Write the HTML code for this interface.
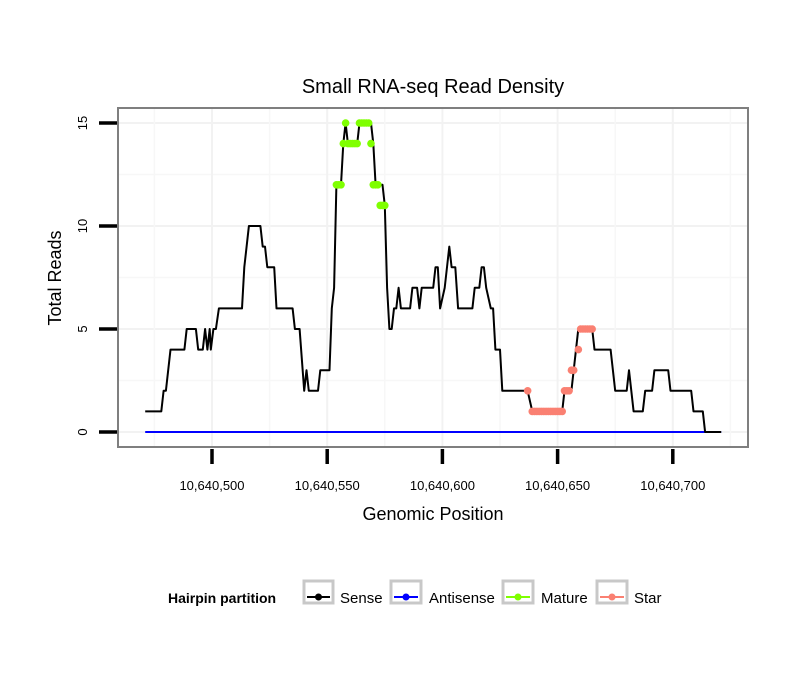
<!DOCTYPE html>
<html><head><meta charset="utf-8"><style>
body{margin:0;background:#fff;}
svg{display:block;font-family:"Liberation Sans",sans-serif;}
</style></head><body>
<svg width="810" height="690" viewBox="0 0 810 690">
<rect width="810" height="690" fill="#fff"/>
<text x="433" y="93" font-size="20" text-anchor="middle">Small RNA-seq Read Density</text>
<g id="grid"></g>
<g id="series"></g>
<rect x="118" y="108" width="630" height="339" fill="none" stroke="#7f7f7f" stroke-width="2"/>
<g id="axes"></g>
<text x="433" y="520" font-size="18" text-anchor="middle">Genomic Position</text>
<text transform="translate(61,278) rotate(-90)" font-size="18" text-anchor="middle">Total Reads</text>
<g>
<text x="168" y="603" font-size="14" font-weight="bold">Hairpin partition</text>
<g><rect x="304" y="581" width="29" height="22" fill="#fff" stroke="#c8c8c8" stroke-width="3"/><line x1="307" y1="597" x2="330" y2="597" stroke="#000" stroke-width="2"/><circle cx="318.5" cy="597" r="3.5" fill="#000"/><text x="340" y="603" font-size="15">Sense</text></g>
<g><rect x="391" y="581" width="30" height="22" fill="#fff" stroke="#c8c8c8" stroke-width="3"/><line x1="394" y1="597" x2="418" y2="597" stroke="#0000ff" stroke-width="2"/><circle cx="406" cy="597" r="3.5" fill="#0000ff"/><text x="429" y="603" font-size="15">Antisense</text></g>
<g><rect x="503" y="581" width="30" height="22" fill="#fff" stroke="#c8c8c8" stroke-width="3"/><line x1="506" y1="597" x2="530" y2="597" stroke="#7fff00" stroke-width="2"/><circle cx="518" cy="597" r="3.5" fill="#7fff00"/><text x="541" y="603" font-size="15">Mature</text></g>
<g><rect x="597" y="581" width="30" height="22" fill="#fff" stroke="#c8c8c8" stroke-width="3"/><line x1="600" y1="597" x2="624" y2="597" stroke="#fa8072" stroke-width="2"/><circle cx="612" cy="597" r="3.5" fill="#fa8072"/><text x="634" y="603" font-size="15">Star</text></g>
</g>
</svg>
<script>
const senseX=[471,478,479,480,482,488,489,493,494,496,
497,498,499,499.5,500.6,501.7,503,513,514,516,
521,522,523,524,527,528,535,536,538,540,
541,542,546,547,551,552,553,554,556,557,
558,559,563,564,569,570,571,574,575,576,
577,578,579,580,581,582,586,587,589,590,
591,596,597,598,599,601,602,603,604,605.6,
606.8,613,614,616,617,618,619,621,622,623,
625,626,637,639,652,653,656,657,659,665,
666,673,675,680,681,683,687,688,691,692,
698,699,708,709,713,714,721];
const senseY=[1,1,2,2,4,4,5,5,4,4,
5,4,5,4,5,5,6,6,8,10,
10,9,9,8,8,6,6,5,5,2,
3,2,2,3,3,6,7,12,12,14,
15,14,14,15,15,14,12,12,11,7,
5,5,6,6,7,6,6,7,7,6,
7,7,8,8,6,7,8,9,8,8,
6,6,7,7,8,8,7,6,6,4,
4,2,2,1,1,2,2,3,5,5,
4,4,2,2,3,1,1,2,2,3,
3,2,2,1,1,0,0];
const antisenseX=[471,721];
const antisenseY=[0,0];
const matureX=[554,555,556,557,558,559,560,561,562,563,564,565,566,567,568,569,570,571,572,573,574,575];
const matureY=[12,12,12,14,15,14,14,14,14,14,15,15,15,15,15,14,12,12,12,11,11,11];
const starX=[637,639,640,641,642,643,644,645,646,647,648,649,650,651,652,653,654,655,656,657,659,660,661,662,663,664,665];
const starY=[2,1,1,1,1,1,1,1,1,1,1,1,1,1,1,2,2,2,3,3,4,5,5,5,5,5,5];
const yTicks=[0,5,10,15];
const xTicks=[10640500,10640550,10640600,10640650,10640700];
const xTickLabels=["10,640,500","10,640,550","10,640,600","10,640,650","10,640,700"];

const NS="http://www.w3.org/2000/svg";
const X0=10640000;
function sx(p){return 212+(p-500)*2.304;}
function sxg(g){return sx(g-X0);}
function sy(v){return 432-v*20.6;}
function mk(tag,attrs,parent){const e=document.createElementNS(NS,tag);for(const k in attrs)e.setAttribute(k,attrs[k]);parent.appendChild(e);return e;}

const grid=document.getElementById('grid');
const series=document.getElementById('series');
const axes=document.getElementById('axes');
for(let i=0;i<yTicks.length;i++){
  const y=sy(yTicks[i]);
  const l=mk('line',{x1:118,x2:748,y1:y,y2:y,stroke:'#f2f2f2','stroke-width':2},grid);
  
  
  if(i<yTicks.length-1){const ym=sy((yTicks[i]+yTicks[i+1])/2);
    const m=mk('line',{x1:118,x2:748,y1:ym,y2:ym,stroke:'#f7f7f7','stroke-width':1.5},grid);
    
    }
  const t=mk('line',{x1:99,x2:117,y1:y,y2:y,stroke:'#000','stroke-width':3.5},axes);
  
  
  const tx=mk('text',{transform:`translate(87,${y}) rotate(-90)`,'font-size':13,'text-anchor':'middle'},axes);
  tx.textContent=yTicks[i];
  
  
}
for(let i=0;i<xTicks.length;i++){
  const x=sxg(xTicks[i]);
  const l=mk('line',{x1:x,x2:x,y1:108,y2:447,stroke:'#f2f2f2','stroke-width':2},grid);
  
  
  const xm=sxg(xTicks[i]-25);
  const m=mk('line',{x1:xm,x2:xm,y1:108,y2:447,stroke:'#f7f7f7','stroke-width':1.5},grid);
  
  
  const t=mk('line',{x1:x,x2:x,y1:449,y2:464,stroke:'#000','stroke-width':3.5},axes);
  
  
  const tx=mk('text',{x:x,y:490,'font-size':13,'text-anchor':'middle'},axes);
  tx.textContent=xTickLabels[i];
  
  
}
{const xm=sxg(xTicks[xTicks.length-1]+25);
  const m=mk('line',{x1:xm,x2:xm,y1:108,y2:447,stroke:'#f7f7f7','stroke-width':1.5},grid);
  
  }

function line(xs,ys,color,name){
  const n=Math.min(xs.length,ys.length);
  const pts=[];
  for(let i=0;i<n;i++)pts.push(sx(xs[i]).toFixed(1)+','+sy(ys[i]).toFixed(1));
  const pl=mk('polyline',{points:pts.join(' '),fill:'none',stroke:color,'stroke-width':2,'stroke-linejoin':'round'},series);
  
  
}
function dots(xs,ys,color,name){
  for(let i=0;i<xs.length;i++){
    const c=mk('circle',{cx:sx(xs[i]),cy:sy(ys[i]),r:3.8,fill:color},series);
    
    
  }
}
line(antisenseX,antisenseY,'#0000ff','antisense-line');
line(senseX,senseY,'#000','sense-line');
dots(matureX,matureY,'#7fff00','mature-point');
dots(starX,starY,'#fa8072','star-point');
</script>
</body></html>
